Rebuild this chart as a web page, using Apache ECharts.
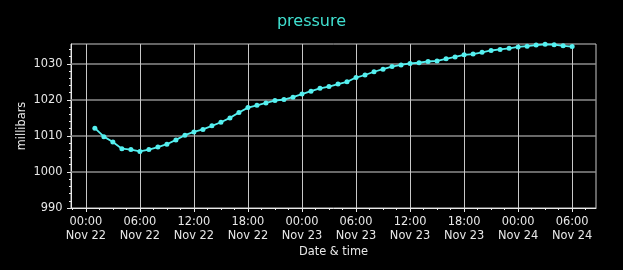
<!DOCTYPE html>
<html><head><meta charset="utf-8">
<script src="https://cdn.jsdelivr.net/npm/echarts@6/dist/echarts.min.js"></script>
<style>html,body{margin:0;padding:0;background:#000;}#c{width:623px;height:270px;}</style>
</head><body><div id="c"></div>
<script>
// hours since Nov 22 00:00
const hours = [1,2,3,4,5,6,7,8,9,10,11,12,13,14,15,16,17,18,19,20,21,22,23,24,25,26,27,28,29,30,31,32,33,34,35,36,37,38,39,40,41,42,43,44,45,46,47,48,49,50,51,52,53,54];
const pressure = [1012.15,1009.8,1008.3,1006.45,1006.2,1005.7,1006.2,1006.9,1007.7,1008.9,1010.2,1011.1,1011.8,1012.8,1013.8,1015.0,1016.5,1017.85,1018.5,1019.15,1019.8,1020.1,1020.75,1021.6,1022.4,1023.2,1023.7,1024.4,1025.0,1026.2,1026.9,1027.8,1028.5,1029.25,1029.7,1030.1,1030.3,1030.65,1030.8,1031.4,1031.9,1032.5,1032.7,1033.2,1033.7,1034.0,1034.3,1034.7,1034.9,1035.2,1035.4,1035.3,1035.0,1034.8];
const xTickHours = [0,6,12,18,24,30,36,42,48,54];
const xTickLabels = ["00:00\nNov 22","06:00\nNov 22","12:00\nNov 22","18:00\nNov 22","00:00\nNov 23","06:00\nNov 23","12:00\nNov 23","18:00\nNov 23","00:00\nNov 24","06:00\nNov 24"];
const xMinorHours = [-1.5,1.5,3,4.5,7.5,9,10.5,13.5,15,16.5,19.5,21,22.5,25.5,27,28.5,31.5,33,34.5,37.5,39,40.5,43.5,45,46.5,49.5,51,52.5,55.5];
const yTicks = [990,1000,1010,1020,1030];
const yMinor = [992,994,996,998,1002,1004,1006,1008,1012,1014,1016,1018,1022,1024,1026,1028,1032,1034];

const XMIN = -1.65, XMAX = 56.65, YMIN = 990, YMAX = 1035.5;
const font = 'DejaVu Sans';
const FS = 11.4;
const labelMap = {};
xTickHours.forEach((h,i)=>labelMap[h]=xTickLabels[i]);

const chart = echarts.init(document.getElementById('c'), null, {renderer:'canvas'});
const hidden = {show:false};
const noLine = {show:false, onZero:false};
chart.setOption({
  backgroundColor:'#000',
  animation:false,
  title:{text:'pressure', left:'center', top:9, textStyle:{color:'#40e0d0', fontFamily:font, fontSize:16, fontWeight:'normal'}},
  grid:{left:71, right:27, top:44, bottom:62, show:true, borderColor:'#c8c8c8', borderWidth:1, backgroundColor:'transparent'},
  xAxis:[
    {type:'value', min:XMIN, max:XMAX, name:'Date & time', nameLocation:'middle', nameGap:39, nameMoveOverlap:false, offset:0,
     nameTextStyle:{color:'#e8e8e8', fontFamily:font, fontSize:FS},
     axisLine:{show:true, onZero:false, lineStyle:{color:'#e8e8e8', width:1}},
     axisTick:{show:true, customValues:xTickHours, length:4, lineStyle:{color:'#e8e8e8'}},
     axisLabel:{customValues:xTickHours, formatter:v=>labelMap[v]||'', color:'#e8e8e8', fontFamily:font, fontSize:FS, lineHeight:13.4, margin:7.5},
     splitLine:hidden},
    {type:'value', min:XMIN, max:XMAX, position:'bottom', offset:0,
     axisLine:noLine, axisLabel:hidden, splitLine:hidden,
     axisTick:{show:true, customValues:xMinorHours, length:2, lineStyle:{color:'#e8e8e8'}}},
    {type:'value', min:XMIN, max:XMAX, position:'bottom', offset:0,
     axisLine:noLine, axisLabel:hidden, splitLine:hidden,
     axisTick:{show:true, inside:true, customValues:xTickHours, length:164, lineStyle:{color:'#c8c8c8', width:1}}}
  ],
  yAxis:[
    {type:'value', min:YMIN, max:YMAX, name:'millibars', nameLocation:'middle', nameGap:43, nameMoveOverlap:false, nameRotate:90, offset:0,
     nameTextStyle:{color:'#e8e8e8', fontFamily:font, fontSize:FS},
     axisLine:{show:true, onZero:false, lineStyle:{color:'#e8e8e8', width:1}},
     axisTick:{show:true, customValues:yTicks, length:4, lineStyle:{color:'#e8e8e8'}},
     axisLabel:{customValues:yTicks, formatter:v=>String(v), color:'#e8e8e8', fontFamily:font, fontSize:FS, margin:8.5},
     splitLine:hidden},
    {type:'value', min:YMIN, max:YMAX, position:'left', offset:0,
     axisLine:noLine, axisLabel:hidden, splitLine:hidden,
     axisTick:{show:true, customValues:yMinor, length:2, lineStyle:{color:'#e8e8e8'}}},
    {type:'value', min:YMIN, max:YMAX, position:'left', offset:0,
     axisLine:noLine, axisLabel:hidden, splitLine:hidden,
     axisTick:{show:true, inside:true, customValues:yTicks.slice(1), length:525, lineStyle:{color:'#8c8c8c', width:1.5}}}
  ],
  series:[{
    type:'line', xAxisIndex:0, yAxisIndex:0,
    data:hours.map((h,i)=>[h,pressure[i]]),
    symbol:'circle', symbolSize:5, showSymbol:true,
    itemStyle:{color:'#55f0f0'},
    lineStyle:{color:'#55f0f0', width:1.8},
    z:5
  }]
});
</script></body></html>
